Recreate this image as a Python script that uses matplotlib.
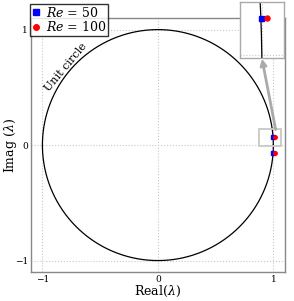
import numpy as np
import matplotlib
matplotlib.use("Agg")
import matplotlib.pyplot as plt
from matplotlib.patches import Rectangle

plt.rcParams['font.family'] = ['DejaVu Serif']
plt.rcParams['mathtext.fontset'] = 'dejavuserif'

# eigenvalue data (real, imag)
labels = [r'$Re$ = 50', r'$Re$ = 100']
eig_real = [[0.9975, 0.9975], [1.012, 1.012]]
eig_imag = [[0.07, -0.07], [0.07, -0.07]]
colors = ['blue', 'red']
markers = ['s', 'o']
ticks = [-1, 0, 1]

fig = plt.figure(figsize=(2.94, 3.01), dpi=100)
ax = fig.add_axes([0.105, 0.096, 0.864, 0.844])

theta = np.linspace(0, 2 * np.pi, 1000)
ax.plot(np.cos(theta), np.sin(theta), color='black', lw=0.9, zorder=2)
for xr, yi, c, m, lab in zip(eig_real, eig_imag, colors, markers, labels):
    ax.plot(xr, yi, linestyle='none', marker=m, color=c, markersize=2.5,
            label=lab, zorder=3)

ax.set_xlim(-1.1, 1.1)
ax.set_ylim(-1.1, 1.1)
ax.set_xticks(ticks)
ax.set_yticks(ticks)
ax.tick_params(length=0, labelsize=6.5, pad=2)
ax.grid(True, linestyle=':', color='#c8c8c8', lw=0.8)
for s in ax.spines.values():
    s.set_color('#888888')
    s.set_linewidth(1.0)
ax.set_xlabel(r'Real($\lambda$)', fontsize=9)
ax.set_ylabel(r'Imag ($\lambda$)', fontsize=9)
ax.xaxis.set_label_coords(0.5, -0.077, transform=ax.transAxes)
ax.yaxis.set_label_coords(-0.079, 0.5, transform=ax.transAxes)
ax.xaxis.label.set_va('center')
ax.yaxis.label.set_va('center')

ax.text(-0.80, 0.67, 'Unit circle', rotation=50, fontsize=8,
        ha='center', va='center')

leg = ax.legend(loc='upper left', bbox_to_anchor=(-0.002, 1.056),
                borderaxespad=0, fontsize=9, frameon=True, fancybox=False,
                handlelength=0.6, handletextpad=0.5, borderpad=0.15,
                labelspacing=0.05, markerscale=1.6)
leg.get_frame().set_edgecolor('black')
leg.get_frame().set_linewidth(1.0)
leg.set_zorder(10)

# zoom box in main axes
ax.add_patch(Rectangle((0.88, -0.01), 0.19, 0.15, fill=False,
                       edgecolor='#c8c8c8', lw=1.3, zorder=4))

# inset
axin = fig.add_axes([0.816, 0.807, 0.150, 0.186])
axin.plot(np.cos(theta), np.sin(theta), color='black', lw=0.9)
for xr, yi, c, m in zip(eig_real, eig_imag, colors, markers):
    axin.plot(xr, yi, linestyle='none', marker=m, color=c, markersize=3.6)
axin.set_xlim(0.95, 1.05)
axin.set_ylim(0.02, 0.09)
axin.set_xticks([1.0])
axin.set_yticks([0.024])
axin.tick_params(length=0, labelbottom=False, labelleft=False)
axin.grid(True, linestyle=':', color='#c8c8c8', lw=0.8)
for s in axin.spines.values():
    s.set_color('#aaaaaa')
    s.set_linewidth(1.0)

ax.annotate('', xy=(0.5, -0.01), xycoords=axin.transAxes,
            xytext=(1.02, 0.135), textcoords='data',
            arrowprops=dict(arrowstyle='-|>', color='#aaaaaa', lw=2,
                            mutation_scale=9, shrinkA=0, shrinkB=0),
            zorder=5, annotation_clip=False)

fig.savefig('out.png', dpi=100)
